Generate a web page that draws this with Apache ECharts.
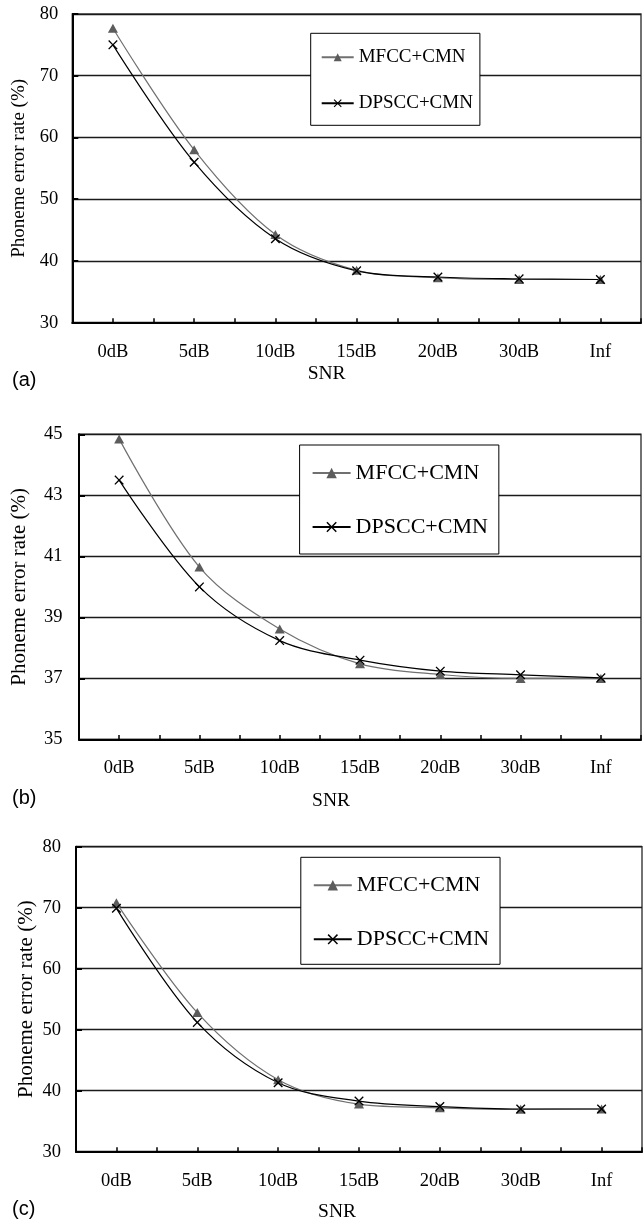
<!DOCTYPE html>
<html><head><meta charset="utf-8">
<script src="https://cdn.jsdelivr.net/npm/echarts@6/dist/echarts.min.js"></script>
<style>html,body{margin:0;padding:0;background:#fff}#c{width:644px;height:1224px}</style>
</head><body><div id="c"></div>
<script>
// ---- data ----
const categories = ['0dB', '5dB', '10dB', '15dB', '20dB', '30dB', 'Inf'];
const seriesNames = ['MFCC+CMN', 'DPSCC+CMN'];
const panelLabels = ['(a)', '(b)', '(c)'];
const xAxisName = 'SNR';
const yAxisName = 'Phoneme error rate (%)';

const mfccA  = [77.7, 58.0, 44.3, 38.5, 37.3, 37.0, 37.0];
const dpsccA = [75.0, 56.0, 43.6, 38.4, 37.4, 37.1, 37.0];
const yTicksA = [30, 40, 50, 60, 70, 80];

const mfccB  = [44.85, 40.65, 38.62, 37.48, 37.13, 37.0, 37.0];
const dpsccB = [43.5, 40.0, 38.24, 37.6, 37.24, 37.12, 37.02];
const yTicksB = [35, 37, 39, 41, 43, 45];

const mfccC  = [70.8, 52.8, 41.8, 37.8, 37.2, 36.95, 37.0];
const dpsccC = [69.9, 51.2, 41.3, 38.3, 37.4, 37.0, 37.0];
const yTicksC = [30, 40, 50, 60, 70, 80];

// ---- layout / style ----
const SERIF = 'Liberation Serif';
const SANS = 'Liberation Sans';
const panels = [
  { mfcc: mfccA, dpscc: dpsccA, ticks: yTicksA,
    grid: { left: 72.3, top: 14, width: 568.7, height: 308.7 },
    yLabelMargin: 14, yNameGap: 44, yNameSize: 19,
    xNameGap: 41, xNameShift: 60,
    legend: { left: 310.7, top: 33.3, padding: [14, 7, 12, 10], itemGap: 26, itemWidth: 32, itemHeight: 10, fontSize: 19, lineHeight: 20 },
    label: { top: 370 } },
  { mfcc: mfccB, dpscc: dpsccB, ticks: yTicksB,
    grid: { left: 79, top: 434.3, width: 562, height: 305.2 },
    yLabelMargin: 16.5, yNameGap: 49.5, yNameSize: 21,
    xNameGap: 51, xNameShift: 58,
    legend: { left: 299.6, top: 445, padding: [17, 11, 16, 12], itemGap: 32, itemWidth: 38, itemHeight: 13, fontSize: 22, lineHeight: 22 },
    label: { top: 788 } },
  { mfcc: mfccC, dpscc: dpsccC, ticks: yTicksC,
    grid: { left: 76, top: 846.7, width: 566, height: 305 },
    yLabelMargin: 15, yNameGap: 39.5, yNameSize: 21,
    xNameGap: 50.5, xNameShift: 44,
    legend: { left: 300.8, top: 857.3, padding: [17, 11, 14, 12], itemGap: 32, itemWidth: 38, itemHeight: 13, fontSize: 22, lineHeight: 22 },
    label: { top: 1199 } }
];

const crossPath = 'path://M0,1L1,0L5,4L9,0L10,1L6,5L10,9L9,10L5,6L1,10L0,9L4,5Z';

const option = {
  animation: false,
  backgroundColor: '#fff',
  title: [], grid: [], xAxis: [], yAxis: [], series: [], legend: []
};

panels.forEach((p, i) => {
  option.grid.push(Object.assign({ show: true, borderColor: '#444', borderWidth: 1.5, backgroundColor: 'transparent', containLabel: false }, p.grid));
  option.title.push({
    text: panelLabels[i], left: 12, top: p.label.top, padding: 0,
    textStyle: { fontFamily: SANS, fontSize: 20, fontWeight: 'normal', color: '#000' }
  });
  option.xAxis.push({
    type: 'category', gridIndex: i, data: categories, position: 'bottom', boundaryGap: true,
    axisLine: { show: true, lineStyle: { color: '#000', width: 2 } },
    axisTick: { show: true, inside: true, length: 4.5, alignWithLabel: false, lineStyle: { color: '#000', width: 1.5 } },
    axisLabel: { show: true, margin: 19.5, fontFamily: SERIF, fontSize: 18.5, color: '#000', interval: 0 },
    splitLine: { show: false },
    name: xAxisName, nameLocation: 'middle', nameGap: p.xNameGap, nameMoveOverlap: false,
    nameTextStyle: { fontFamily: SERIF, fontSize: 19.5, color: '#000', padding: [0, p.xNameShift, 0, 0] }
  });
  option.xAxis.push({
    type: 'category', gridIndex: i, data: categories, position: 'bottom', boundaryGap: true,
    axisLine: { show: false },
    axisTick: { show: true, inside: true, length: 4.5, alignWithLabel: true, lineStyle: { color: '#000', width: 1.5 } },
    axisLabel: { show: false }, splitLine: { show: false }
  });
  const t = p.ticks;
  option.yAxis.push({
    type: 'value', gridIndex: i, min: t[0], max: t[t.length - 1], interval: t[1] - t[0],
    axisLine: { show: true, lineStyle: { color: '#000', width: 2 } },
    axisTick: { show: true, inside: true, length: 6, lineStyle: { color: '#000', width: 2 } },
    axisLabel: { margin: p.yLabelMargin, fontFamily: SERIF, fontSize: 18.5, color: '#000' },
    splitLine: { show: true, lineStyle: { color: '#1a1a1a', width: 1.3 } },
    name: yAxisName, nameLocation: 'middle', nameGap: p.yNameGap, nameRotate: 90, nameMoveOverlap: false,
    nameTextStyle: { fontFamily: SERIF, fontSize: p.yNameSize, color: '#000' }
  });
  option.series.push({
    type: 'line', name: seriesNames[0], xAxisIndex: 2 * i, yAxisIndex: i, data: p.mfcc,
    smooth: 0.33, symbol: 'triangle', symbolSize: [10, 9],
    lineStyle: { color: '#707070', width: 1.2 }, itemStyle: { color: '#5c5c5c' }
  });
  option.series.push({
    type: 'line', name: seriesNames[1], xAxisIndex: 2 * i, yAxisIndex: i, data: p.dpscc,
    smooth: 0.33, symbol: crossPath, symbolSize: 9.5,
    lineStyle: { color: '#000', width: 1.2 }, itemStyle: { color: '#000' }
  });
  const L = p.legend;
  option.legend.push({
    show: true, orient: 'vertical', left: L.left, top: L.top, padding: L.padding,
    itemGap: L.itemGap, itemWidth: L.itemWidth, itemHeight: L.itemHeight,
    backgroundColor: '#fff', borderColor: '#000', borderWidth: 1, borderRadius: 0,
    selectedMode: false, data: seriesNames,
    textStyle: { fontFamily: SERIF, fontSize: L.fontSize, lineHeight: L.lineHeight, color: '#000' }
  });
});

const chart = echarts.init(document.getElementById('c'), null, { renderer: 'canvas' });
chart.setOption(option);
</script>
</body></html>
